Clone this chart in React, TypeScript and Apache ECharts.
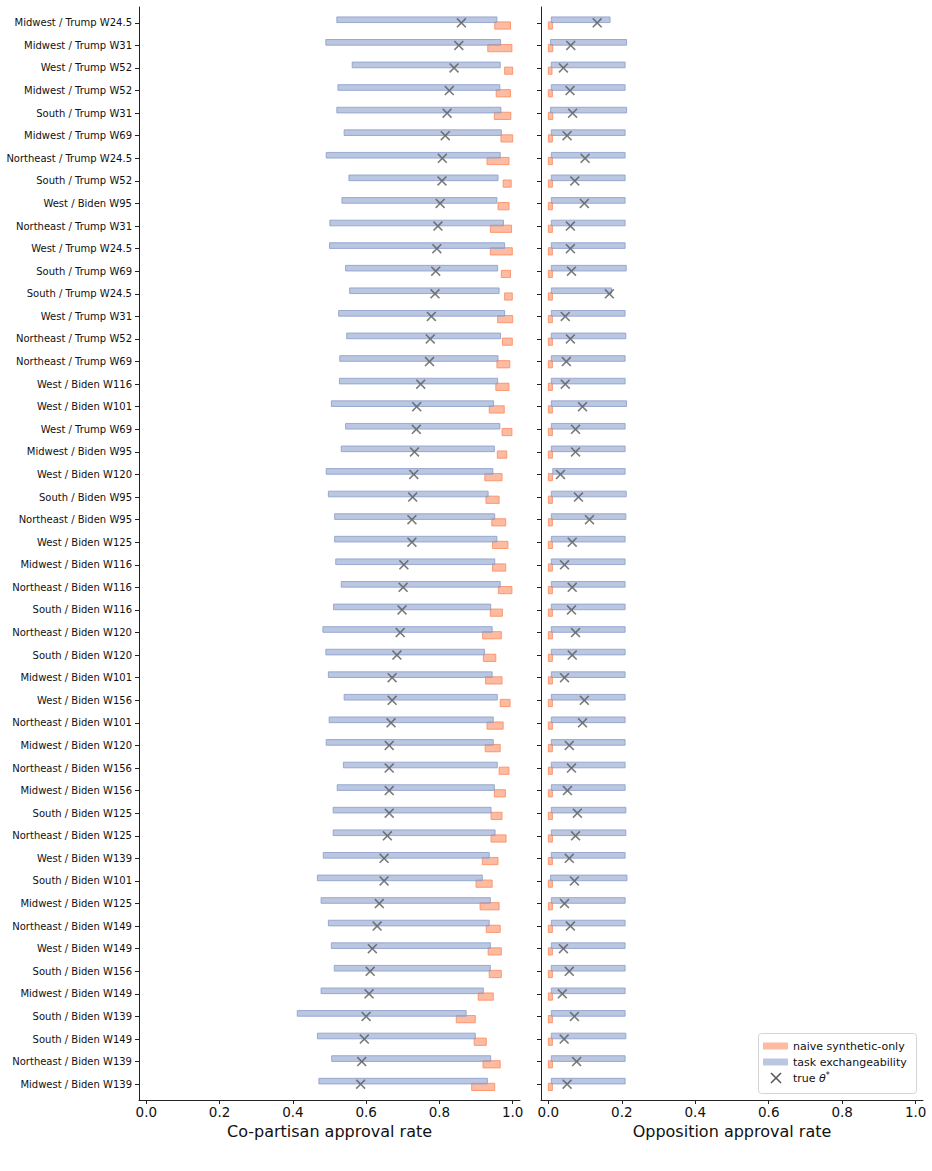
import React, { useEffect, useRef } from "react";
import * as echarts from "echarts";

// Region / party / wave combinations, top to bottom
const categories = [
  "Midwest / Trump W24.5", "Midwest / Trump W31", "West / Trump W52", "Midwest / Trump W52",
  "South / Trump W31", "Midwest / Trump W69", "Northeast / Trump W24.5", "South / Trump W52",
  "West / Biden W95", "Northeast / Trump W31", "West / Trump W24.5", "South / Trump W69",
  "South / Trump W24.5", "West / Trump W31", "Northeast / Trump W52", "Northeast / Trump W69",
  "West / Biden W116", "West / Biden W101", "West / Trump W69", "Midwest / Biden W95",
  "West / Biden W120", "South / Biden W95", "Northeast / Biden W95", "West / Biden W125",
  "Midwest / Biden W116", "Northeast / Biden W116", "South / Biden W116", "Northeast / Biden W120",
  "South / Biden W120", "Midwest / Biden W101", "West / Biden W156", "Northeast / Biden W101",
  "Midwest / Biden W120", "Northeast / Biden W156", "Midwest / Biden W156", "South / Biden W125",
  "Northeast / Biden W125", "West / Biden W139", "South / Biden W101", "Midwest / Biden W125",
  "Northeast / Biden W149", "West / Biden W149", "South / Biden W156", "Midwest / Biden W149",
  "South / Biden W139", "South / Biden W149", "Northeast / Biden W139", "Midwest / Biden W139",
];

// Co-partisan approval: task-exchangeability interval
const copExchLo = [
  0.520, 0.490, 0.562, 0.523, 0.520, 0.540, 0.491, 0.553, 0.534, 0.501, 0.500, 0.544,
  0.555, 0.525, 0.547, 0.528, 0.527, 0.505, 0.544, 0.532, 0.491, 0.497, 0.514, 0.514,
  0.517, 0.532, 0.511, 0.482, 0.490, 0.497, 0.540, 0.499, 0.491, 0.538, 0.521, 0.510,
  0.510, 0.483, 0.467, 0.477, 0.497, 0.505, 0.513, 0.477, 0.412, 0.467, 0.506, 0.471,
];
const copExchHi = [
  0.957, 0.967, 0.966, 0.965, 0.968, 0.969, 0.966, 0.960, 0.957, 0.975, 0.978, 0.959,
  0.963, 0.978, 0.967, 0.960, 0.959, 0.948, 0.965, 0.950, 0.946, 0.933, 0.951, 0.957,
  0.951, 0.966, 0.940, 0.944, 0.923, 0.944, 0.958, 0.947, 0.947, 0.958, 0.950, 0.941,
  0.952, 0.936, 0.917, 0.939, 0.936, 0.939, 0.939, 0.920, 0.873, 0.898, 0.940, 0.931,
];
// Co-partisan approval: naive synthetic-only interval
const copNaiveLo = [
  0.951, 0.932, 0.978, 0.955, 0.950, 0.968, 0.930, 0.974, 0.960, 0.939, 0.939, 0.969,
  0.978, 0.959, 0.972, 0.957, 0.954, 0.936, 0.971, 0.958, 0.924, 0.927, 0.943, 0.945,
  0.945, 0.961, 0.939, 0.918, 0.920, 0.926, 0.966, 0.930, 0.925, 0.963, 0.950, 0.941,
  0.941, 0.917, 0.900, 0.911, 0.928, 0.933, 0.936, 0.906, 0.846, 0.895, 0.919, 0.888,
];
const copNaiveHi = [
  0.994, 0.998, 1.000, 0.994, 0.995, 1.000, 0.990, 0.996, 0.990, 0.997, 0.999, 0.994,
  0.999, 1.000, 0.999, 0.992, 0.990, 0.977, 0.998, 0.984, 0.971, 0.963, 0.981, 0.987,
  0.981, 0.998, 0.972, 0.969, 0.954, 0.971, 0.993, 0.974, 0.966, 0.990, 0.980, 0.971,
  0.982, 0.960, 0.944, 0.963, 0.966, 0.969, 0.969, 0.947, 0.898, 0.928, 0.966, 0.951,
];
// Co-partisan approval: true theta*
const copTrue = [
  0.860, 0.853, 0.840, 0.827, 0.821, 0.816, 0.808, 0.807, 0.802, 0.796, 0.793, 0.790,
  0.788, 0.778, 0.775, 0.773, 0.749, 0.738, 0.737, 0.732, 0.730, 0.727, 0.725, 0.725,
  0.703, 0.701, 0.698, 0.693, 0.684, 0.671, 0.671, 0.668, 0.663, 0.663, 0.663, 0.663,
  0.658, 0.649, 0.649, 0.636, 0.630, 0.617, 0.611, 0.608, 0.600, 0.595, 0.588, 0.585,
];

// Opposition approval: task-exchangeability interval
const oppExchLo = [
  0.008, 0.006, 0.008, 0.008, 0.006, 0.008, 0.008, 0.008, 0.008, 0.008, 0.008, 0.008,
  0.008, 0.008, 0.008, 0.008, 0.008, 0.008, 0.008, 0.008, 0.012, 0.008, 0.008, 0.008,
  0.008, 0.008, 0.008, 0.008, 0.008, 0.008, 0.008, 0.008, 0.008, 0.008, 0.008, 0.008,
  0.008, 0.008, 0.006, 0.008, 0.008, 0.008, 0.008, 0.008, 0.008, 0.008, 0.008, 0.008,
];
const oppExchHi = [
  0.168, 0.213, 0.209, 0.209, 0.213, 0.209, 0.209, 0.209, 0.209, 0.209, 0.209, 0.212,
  0.172, 0.209, 0.211, 0.209, 0.209, 0.213, 0.209, 0.209, 0.209, 0.212, 0.211, 0.209,
  0.209, 0.209, 0.209, 0.209, 0.209, 0.209, 0.209, 0.209, 0.209, 0.209, 0.209, 0.211,
  0.211, 0.209, 0.214, 0.209, 0.209, 0.209, 0.209, 0.209, 0.209, 0.211, 0.209, 0.209,
];
// Opposition approval: naive synthetic-only interval
const oppNaiveLo = [
  0.000, 0.000, 0.000, 0.000, 0.000, 0.000, 0.000, 0.000, 0.000, 0.000, 0.000, 0.000,
  0.000, 0.000, 0.000, 0.000, 0.000, 0.000, 0.000, 0.000, 0.000, 0.000, 0.000, 0.000,
  0.000, 0.000, 0.000, 0.000, 0.000, 0.000, 0.000, 0.000, 0.000, 0.000, 0.000, 0.000,
  0.000, 0.000, 0.000, 0.000, 0.000, 0.000, 0.000, 0.000, 0.000, 0.000, 0.000, 0.000,
];
const oppNaiveHi = [
  0.011, 0.012, 0.010, 0.011, 0.012, 0.011, 0.011, 0.011, 0.011, 0.011, 0.011, 0.011,
  0.011, 0.011, 0.011, 0.011, 0.011, 0.011, 0.011, 0.011, 0.011, 0.011, 0.011, 0.011,
  0.011, 0.011, 0.011, 0.011, 0.011, 0.011, 0.011, 0.011, 0.011, 0.011, 0.011, 0.011,
  0.011, 0.011, 0.011, 0.011, 0.011, 0.011, 0.011, 0.011, 0.011, 0.011, 0.011, 0.011,
];
// Opposition approval: true theta*
const oppTrue = [
  0.133, 0.061, 0.041, 0.059, 0.066, 0.051, 0.100, 0.072, 0.098, 0.060, 0.060, 0.063,
  0.166, 0.046, 0.060, 0.049, 0.046, 0.093, 0.074, 0.074, 0.033, 0.082, 0.112, 0.065,
  0.044, 0.065, 0.063, 0.074, 0.065, 0.044, 0.098, 0.093, 0.057, 0.063, 0.052, 0.079,
  0.074, 0.057, 0.071, 0.044, 0.060, 0.041, 0.057, 0.038, 0.071, 0.043, 0.077, 0.051,
];

const xTicks = [0, 0.2, 0.4, 0.6, 0.8, 1.0];

const NAIVE = "#fc8d62";
const EXCH = "#8da0cb";
const MARK = "#5a5a5a";
const FONT = "DejaVu Sans";

// X marker drawn as a filled outline so its stroke weight stays fixed
const CROSS =
  "path://M0,1.13L1.13,0L5,3.87L8.87,0L10,1.13L6.13,5L10,8.87L8.87,10L5,6.13L1.13,10L0,8.87L3.87,5Z";

// Horizontal interval bar drawn in data space, shifted within its row
function intervalBar(offset: number, thick: number, color: string) {
  return (_params: any, api: any) => {
    const lo = api.value(0);
    const hi = api.value(1);
    const idx = api.value(2);
    const p0 = api.coord([lo, idx + offset - thick / 2]);
    const p1 = api.coord([hi, idx + offset + thick / 2]);
    return {
      type: "rect",
      shape: {
        x: Math.min(p0[0], p1[0]),
        y: Math.min(p0[1], p1[1]),
        width: Math.abs(p1[0] - p0[0]),
        height: Math.abs(p1[1] - p0[1]),
      },
      style: {
        fill: color,
        fillOpacity: 0.6,
        stroke: color,
        strokeOpacity: 0.85,
        lineWidth: 1,
      },
    };
  };
}

function rows(lo: number[], hi: number[]) {
  return lo.map((v, i) => [v, hi[i], i]);
}
function points(vals: number[]) {
  return vals.map((v, i) => [v, i]);
}

export default function App() {
  const ref = useRef<HTMLDivElement>(null);

  useEffect(() => {
    document.body.style.margin = "0";
    if (!ref.current) return;
    const chart = echarts.init(ref.current, null, { renderer: "svg" });

    const rowIdx = categories.map((_, i) => i);

    const xAxisBase = (name: string, gridIndex: number) => ({
      type: "value",
      gridIndex,
      min: -0.02,
      max: 1.02,
      name,
      nameLocation: "middle",
      nameGap: 23,
      nameTextStyle: { fontSize: 16, color: "#111", fontFamily: FONT },
      axisLine: { show: true, onZero: false, lineStyle: { color: "#222", width: 1 } },
      axisTick: { show: true, customValues: xTicks, length: 4, lineStyle: { color: "#222", width: 1 } },
      axisLabel: {
        show: true,
        customValues: xTicks,
        formatter: (v: number) => v.toFixed(1),
        fontSize: 13.5,
        color: "#111",
        fontFamily: FONT,
        margin: 5,
      },
      splitLine: { show: false },
    });

    const yAxisBase = (gridIndex: number, labels: boolean) => ({
      type: "value",
      gridIndex,
      inverse: true,
      min: -0.7,
      max: 47.7,
      axisLine: { show: true, onZero: false, lineStyle: { color: "#222", width: 1 } },
      axisTick: { show: true, customValues: rowIdx, length: 4, lineStyle: { color: "#222", width: 1 } },
      axisLabel: {
        show: labels,
        customValues: rowIdx,
        formatter: (v: number) => categories[Math.round(v)] ?? "",
        fontSize: 10,
        color: "#111",
        fontFamily: FONT,
        margin: 7,
      },
      splitLine: { show: false },
    });

    const panelSeries = (
      axisIndex: number,
      nLo: number[],
      nHi: number[],
      eLo: number[],
      eHi: number[],
      truth: number[]
    ) => [
      {
        type: "custom",
        name: "naive synthetic-only",
        xAxisIndex: axisIndex,
        yAxisIndex: axisIndex,
        renderItem: intervalBar(0.12, 0.32, NAIVE),
        encode: { x: [0, 1], y: 2 },
        data: rows(nLo, nHi),
        z: 2,
      },
      {
        type: "custom",
        name: "task exchangeability",
        xAxisIndex: axisIndex,
        yAxisIndex: axisIndex,
        renderItem: intervalBar(-0.135, 0.25, EXCH),
        encode: { x: [0, 1], y: 2 },
        data: rows(eLo, eHi),
        z: 3,
      },
      {
        type: "scatter",
        name: "true θ*",
        xAxisIndex: axisIndex,
        yAxisIndex: axisIndex,
        symbol: CROSS,
        symbolSize: 10,
        itemStyle: { color: MARK },
        data: points(truth),
        z: 4,
      },
    ];

    const legendX = 758;
    const legendY = 1033;
    const legendText = { fontSize: 11, fontFamily: FONT, fill: "#111", verticalAlign: "middle" };

    chart.setOption({
      animation: false,
      backgroundColor: "#ffffff",
      textStyle: { fontFamily: FONT },
      grid: [
        { left: 139, top: 7, width: 381, height: 1093 },
        { left: 541, top: 7, width: 382, height: 1093 },
      ],
      xAxis: [
        xAxisBase("Co-partisan approval rate", 0),
        xAxisBase("Opposition approval rate", 1),
      ],
      yAxis: [yAxisBase(0, true), yAxisBase(1, false)],
      series: [
        ...panelSeries(0, copNaiveLo, copNaiveHi, copExchLo, copExchHi, copTrue),
        ...panelSeries(1, oppNaiveLo, oppNaiveHi, oppExchLo, oppExchHi, oppTrue),
      ],
      graphic: [
        {
          type: "group",
          x: legendX,
          y: legendY,
          z: 100,
          children: [
            {
              type: "rect",
              shape: { x: 0.5, y: 0.5, width: 158, height: 60, r: 3 },
              style: { fill: "rgba(255,255,255,0.85)", stroke: "#d4d4d4", lineWidth: 1 },
            },
            {
              type: "rect",
              shape: { x: 5, y: 9.5, width: 25, height: 7 },
              style: { fill: NAIVE, fillOpacity: 0.6 },
            },
            {
              type: "text",
              x: 35,
              y: 13,
              style: { ...legendText, text: "naive synthetic-only" },
            },
            {
              type: "rect",
              shape: { x: 5, y: 25.5, width: 25, height: 7 },
              style: { fill: EXCH, fillOpacity: 0.6 },
            },
            {
              type: "text",
              x: 35,
              y: 29,
              style: { ...legendText, text: "task exchangeability" },
            },
            {
              type: "line",
              shape: { x1: 13, y1: 40, x2: 23, y2: 50 },
              style: { stroke: MARK, lineWidth: 1.6 },
            },
            {
              type: "line",
              shape: { x1: 23, y1: 40, x2: 13, y2: 50 },
              style: { stroke: MARK, lineWidth: 1.6 },
            },
            {
              type: "text",
              x: 35,
              y: 45,
              style: {
                ...legendText,
                text: "true {t|θ}{s|*}",
                rich: {
                  t: { fontSize: 11, fontFamily: FONT, fontStyle: "italic", fill: "#111" },
                  s: { fontSize: 8, fontFamily: FONT, fill: "#111", padding: [0, 0, 5, 0] },
                },
              },
            },
          ],
        },
      ],
    });

    return () => {
      chart.dispose();
    };
  }, []);

  return (
    <div
      ref={ref}
      style={{ position: "absolute", left: 0, top: 0, width: 932, height: 1171 }}
    />
  );
}
